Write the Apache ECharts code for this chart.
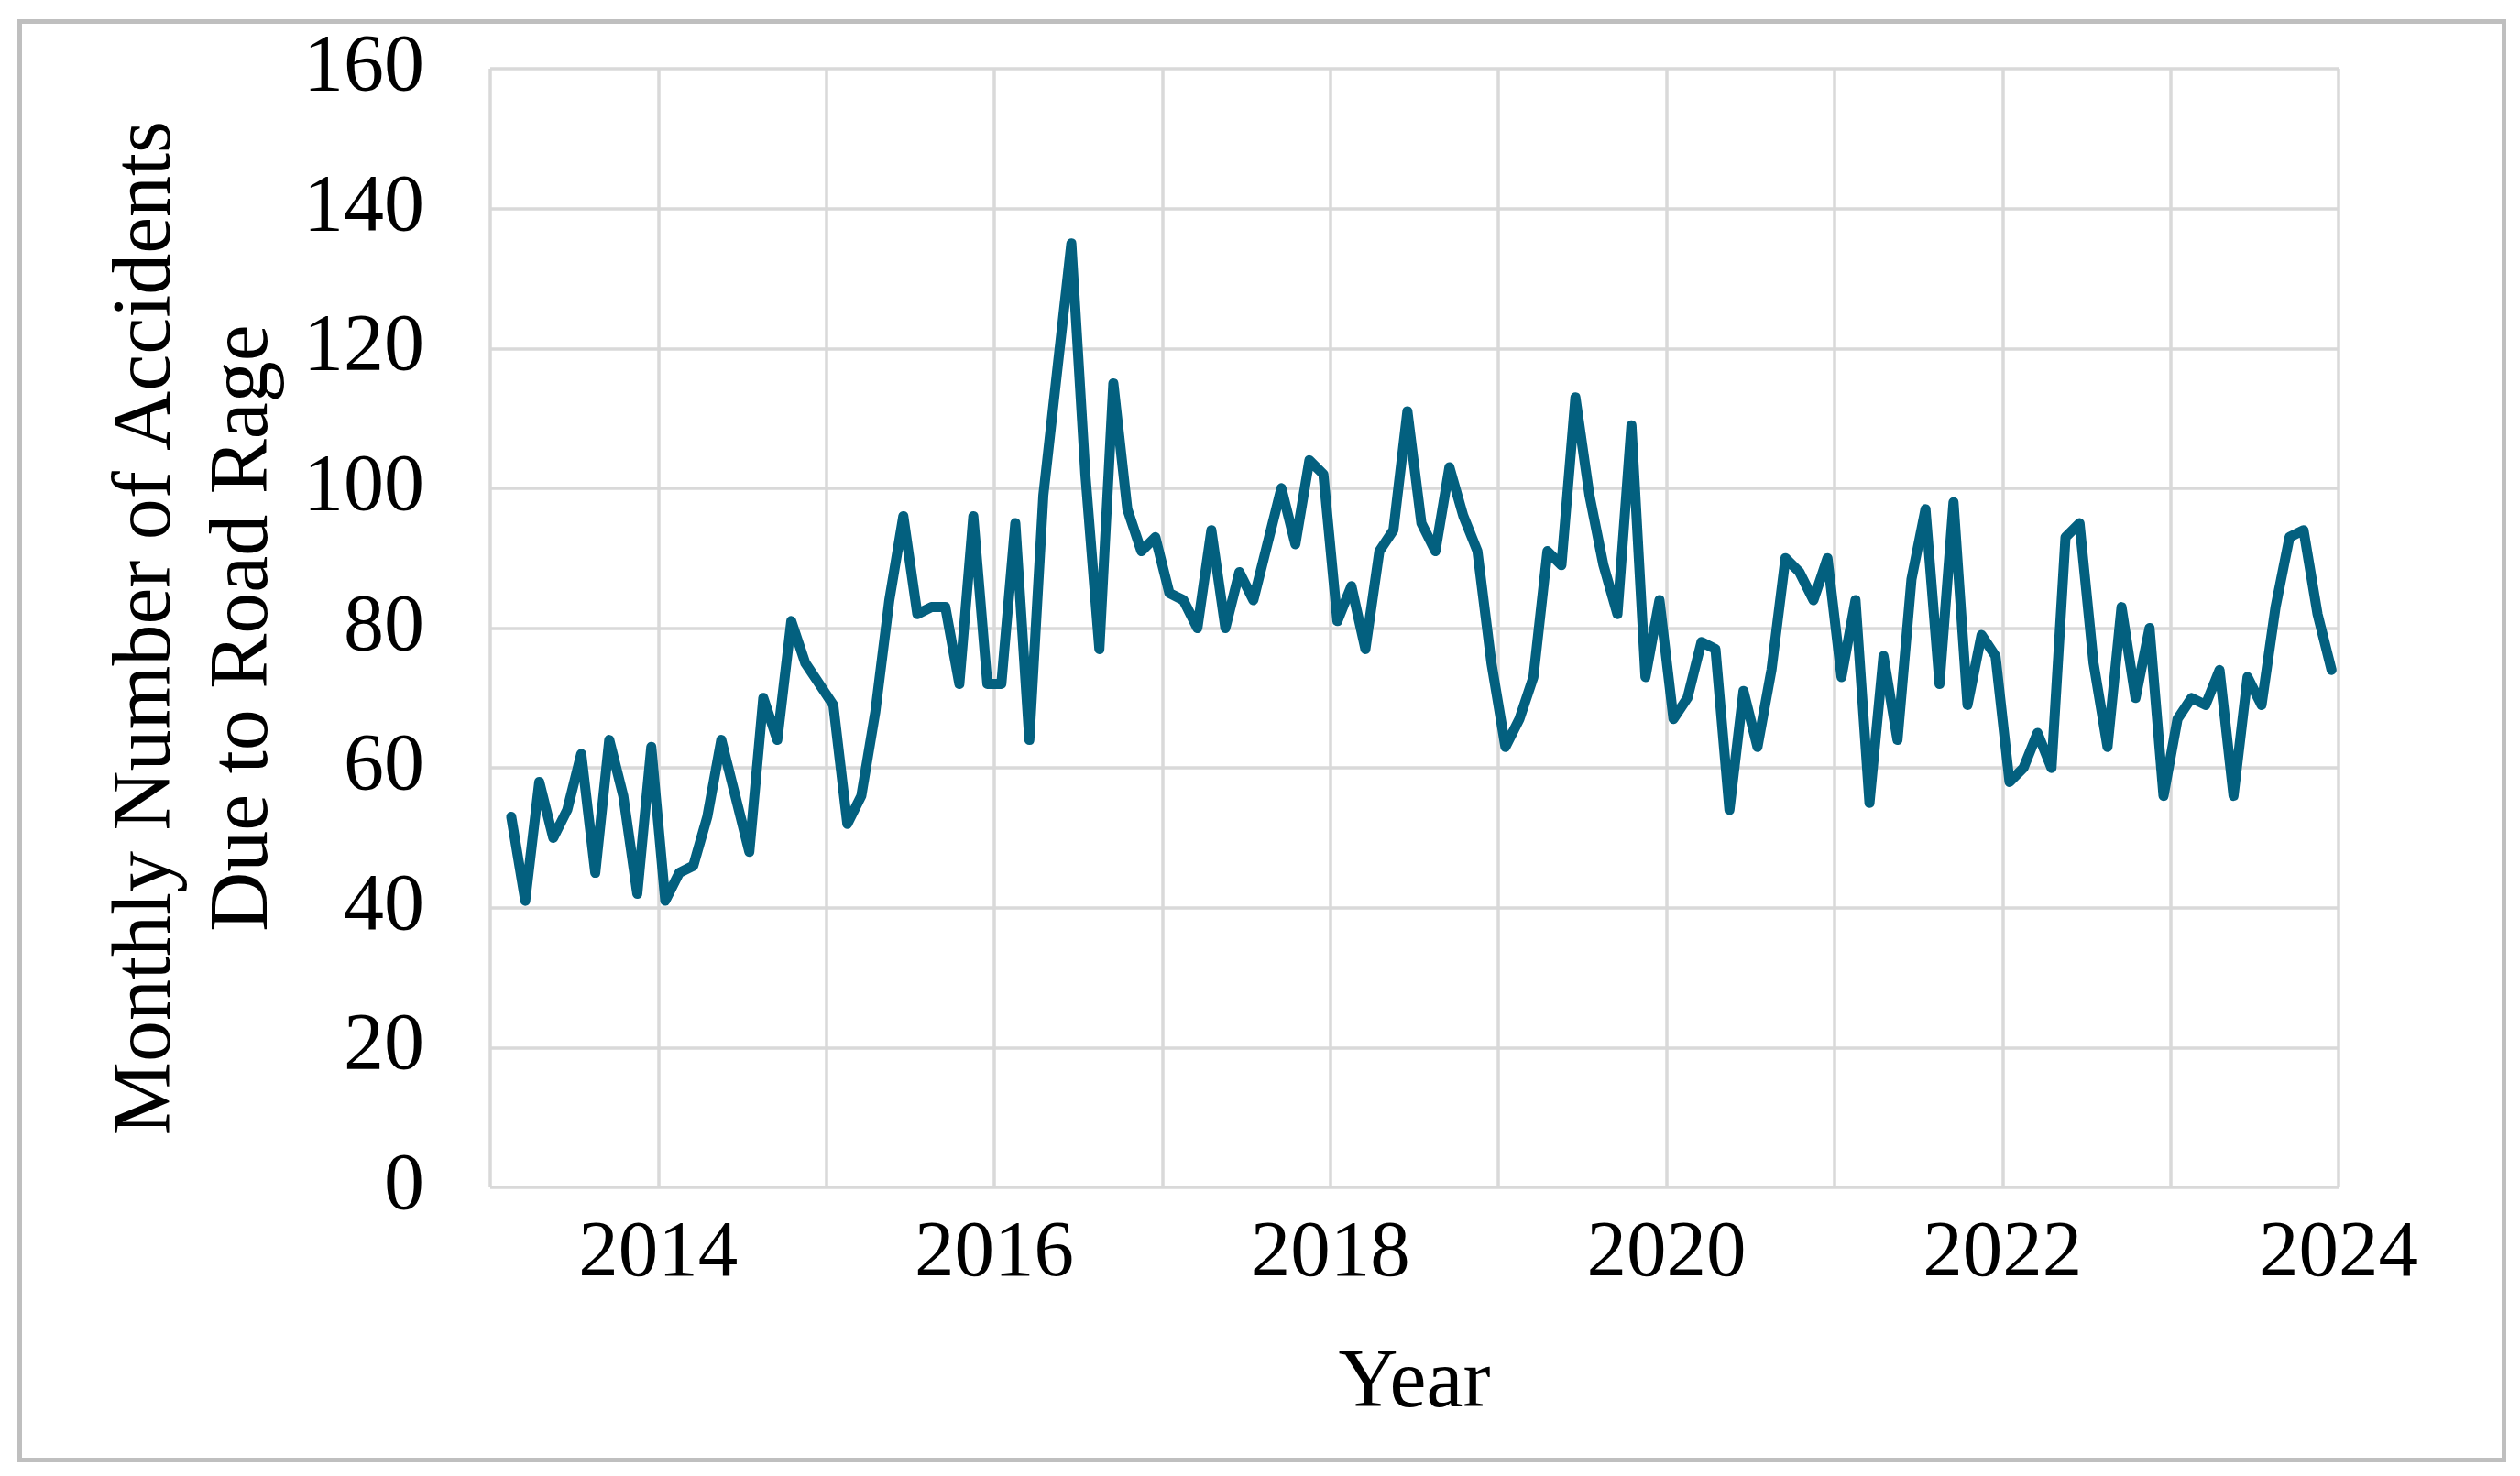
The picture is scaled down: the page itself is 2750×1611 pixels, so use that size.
<!DOCTYPE html>
<html>
<head>
<meta charset="utf-8">
<script src="https://cdn.jsdelivr.net/npm/echarts@6/dist/echarts.min.js"></script>
<style>
  html, body { margin: 0; padding: 0; background: #ffffff; }
  #chart { width: 2750px; height: 1611px; }
</style>
</head>
<body>
<div id="chart"></div>
<script>
// Monthly series: first value is February 2013, last is December 2023
const startYear = 2013;
const startMonth = 2; // February
const accidents = [
  53, 41, 58, 50, 54, 62, 45, 64, 56, 42, 63, 41,
  45, 46, 53, 64, 56, 48, 70, 64, 81, 75, 72, 69,
  52, 56, 68, 84, 96, 82, 83, 83, 72, 96, 72, 72,
  95, 64, 99, 117, 135, 102, 77, 115, 97, 91, 93, 85,
  84, 80, 94, 80, 88, 84, 92, 100, 92, 104, 102, 81,
  86, 77, 91, 94, 111, 95, 91, 103, 96, 91, 75, 63,
  67, 73, 91, 89, 113, 99, 89, 82, 109, 73, 84, 67,
  70, 78, 77, 54, 71, 63, 74, 90, 88, 84, 90, 73,
  84, 55, 76, 64, 87, 97, 72, 98, 69, 79, 76, 58,
  60, 65, 60, 93, 95, 75, 63, 83, 70, 80, 56, 67,
  70, 69, 74, 56, 73, 69, 83, 93, 94, 82, 74
];
const yTicks = [0, 20, 40, 60, 80, 100, 120, 140, 160];
const xLabelYears = [2014, 2016, 2018, 2020, 2022, 2024];
const xAxisTitle = 'Year';
const yAxisTitle = 'Monthly Number of Accidents\nDue to Road Rage';

// Each month is placed at its mid-point on a decimal-year axis
const seriesData = accidents.map((v, i) => {
  const m = startMonth - 1 + i;             // months since Jan of startYear
  return [startYear + (m + 0.5) / 12, v];
});

const FONT = "'Liberation Serif', 'Times New Roman', serif";
const chart = echarts.init(document.getElementById('chart'), null, { renderer: 'canvas' });

chart.setOption({
  animation: false,
  backgroundColor: '#ffffff',
  graphic: [{
    type: 'rect',
    left: 19, top: 21,
    shape: { width: 2711, height: 1570 },
    style: { fill: 'none', stroke: '#bfbfbf', lineWidth: 5 },
    silent: true, z: -1
  }],
  grid: { left: 535, right: 198, top: 75, bottom: 315, containLabel: false },
  xAxis: {
    type: 'value',
    min: 2013, max: 2024, interval: 1,
    name: xAxisTitle,
    nameLocation: 'middle',
    nameGap: 170,
    nameTextStyle: { fontFamily: FONT, fontSize: 90, color: '#000000' },
    axisLine: { show: false },
    axisTick: { show: false },
    splitLine: { show: true, lineStyle: { color: '#d9d9d9', width: 3.5 } },
    axisLabel: {
      margin: 30,
      fontFamily: FONT, fontSize: 87, color: '#000000',
      formatter: v => xLabelYears.indexOf(Math.round(v)) >= 0 ? String(Math.round(v)) : ''
    }
  },
  yAxis: {
    type: 'value',
    min: yTicks[0], max: yTicks[yTicks.length - 1], interval: 20,
    name: yAxisTitle,
    nameLocation: 'middle',
    nameGap: 215,
    nameRotate: 90,
    nameTextStyle: { fontFamily: FONT, fontSize: 90, color: '#000000', lineHeight: 106, align: 'center' },
    axisLine: { show: false },
    axisTick: { show: false },
    splitLine: { show: true, lineStyle: { color: '#d9d9d9', width: 3.5 } },
    axisLabel: { margin: 72, fontFamily: FONT, fontSize: 88, color: '#000000' }
  },
  series: [{
    type: 'line',
    data: seriesData,
    showSymbol: false,
    symbol: 'none',
    lineStyle: { color: '#03607f', width: 11, cap: 'round', join: 'round' },
    itemStyle: { color: '#03607f' }
  }]
});
</script>
</body>
</html>
